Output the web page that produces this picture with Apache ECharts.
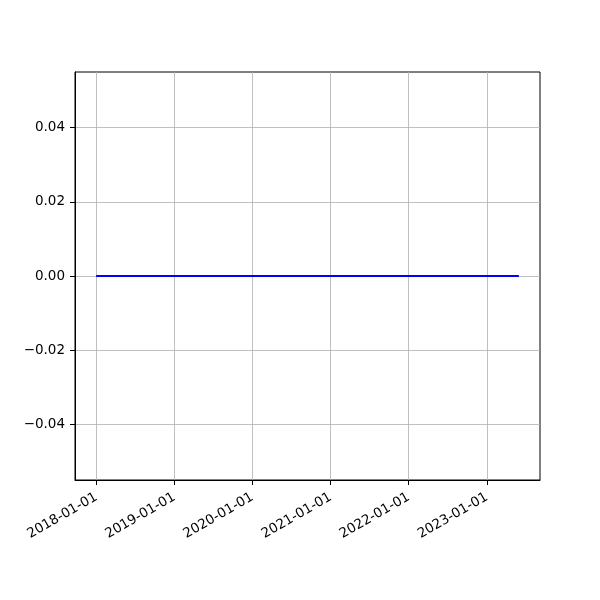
<!DOCTYPE html>
<html>
<head>
<meta charset="utf-8">
<script src="https://cdn.jsdelivr.net/npm/echarts@6/dist/echarts.min.js"></script>
<style>html,body{margin:0;padding:0;background:#fff}#c{width:600px;height:600px}</style>
</head>
<body>
<div id="c"></div>
<script>
var dates = [
"2017-12-31","2018-01-31","2018-02-28","2018-03-31","2018-04-30","2018-05-31","2018-06-30","2018-07-31","2018-08-31","2018-09-30","2018-10-31","2018-11-30","2018-12-31",
"2019-01-31","2019-02-28","2019-03-31","2019-04-30","2019-05-31","2019-06-30","2019-07-31","2019-08-31","2019-09-30","2019-10-31","2019-11-30","2019-12-31",
"2020-01-31","2020-02-29","2020-03-31","2020-04-30","2020-05-31","2020-06-30","2020-07-31","2020-08-31","2020-09-30","2020-10-31","2020-11-30","2020-12-31",
"2021-01-31","2021-02-28","2021-03-31","2021-04-30","2021-05-31","2021-06-30","2021-07-31","2021-08-31","2021-09-30","2021-10-31","2021-11-30","2021-12-31",
"2022-01-31","2022-02-28","2022-03-31","2022-04-30","2022-05-31","2022-06-30","2022-07-31","2022-08-31","2022-09-30","2022-10-31","2022-11-30","2022-12-31",
"2023-01-31","2023-02-28","2023-03-31","2023-04-30","2023-05-31"
];
var values = [
0,0,0,0,0,0,0,0,0,0,0,0,0,
0,0,0,0,0,0,0,0,0,0,0,0,
0,0,0,0,0,0,0,0,0,0,0,0,
0,0,0,0,0,0,0,0,0,0,0,0,
0,0,0,0,0,0,0,0,0,0,0,0,
0,0,0,0,0
];
var xTickLabels = ["2018-01-01","2019-01-01","2020-01-01","2021-01-01","2022-01-01","2023-01-01"];
var yTicks = [-0.04,-0.02,0.00,0.02,0.04];
var yMin = -0.055, yMax = 0.055;

function ts(s){ return Date.parse(s + "T00:00:00Z"); }
var xs = dates.map(ts);
var span = xs[xs.length-1] - xs[0];
var xMin = xs[0] - 0.05*span, xMax = xs[xs.length-1] + 0.05*span;
var xTickVals = xTickLabels.map(ts);
var lineData = xs.map(function(x,i){ return [x, values[i]]; });

function fmtDate(v){
  var d = new Date(v);
  var m = d.getUTCMonth()+1, day = d.getUTCDate();
  return d.getUTCFullYear() + "-" + (m<10?"0":"") + m + "-" + (day<10?"0":"") + day;
}

var chart = echarts.init(document.getElementById('c'), null, {renderer:'canvas'});
chart.setOption({
  animation:false,
  backgroundColor:'#ffffff',
  grid:{left:75, right:60, top:72, bottom:120, show:true, borderColor:'#000', borderWidth:1, backgroundColor:'transparent'},
  xAxis:{
    type:'value', min:xMin, max:xMax,
    axisLine:{show:true, onZero:false, lineStyle:{color:'#000', width:1}},
    axisTick:{show:true, length:5, customValues:xTickVals, lineStyle:{color:'#000'}},
    axisLabel:{customValues:xTickVals, rotate:30, margin:8, verticalAlign:'top', padding:[0,4,0,0], color:'#000', fontFamily:'DejaVu Sans', fontSize:13.5, formatter:function(v){return fmtDate(v);}},
    splitLine:{show:true, lineStyle:{color:'#b0b0b0', width:0.8}}
  },
  yAxis:{
    type:'value', min:yMin, max:yMax,
    axisLine:{show:true, onZero:false, lineStyle:{color:'#000', width:1}},
    axisTick:{show:true, length:5, customValues:yTicks, lineStyle:{color:'#000'}},
    axisLabel:{customValues:yTicks, margin:10, color:'#000', fontFamily:'DejaVu Sans', fontSize:13.5, formatter:function(v){return v.toFixed(2).replace('-', '\u2212');}},
    splitLine:{show:true, lineStyle:{color:'#b0b0b0', width:0.8}}
  },
  series:[{type:'line', data:lineData, showSymbol:false, symbol:'none', lineStyle:{color:'#0000ff', width:1.8}, silent:true}]
});
</script>
</body>
</html>
